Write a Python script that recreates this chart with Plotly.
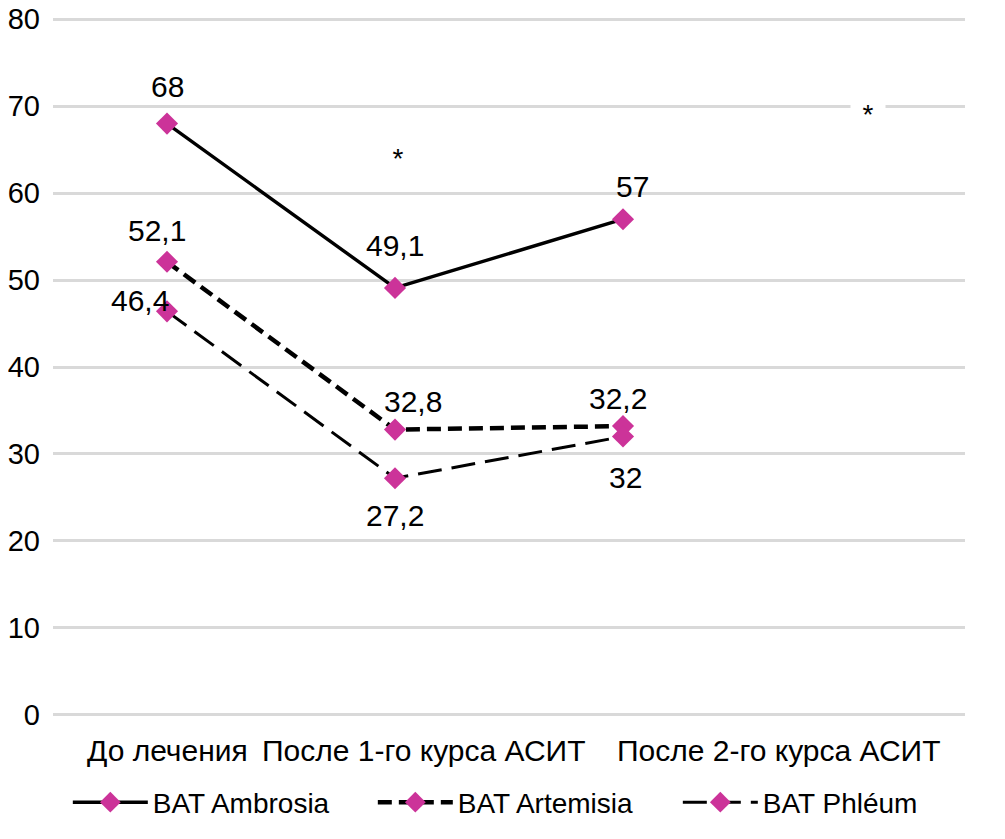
import plotly.graph_objects as go

categories = ["До лечения", "После 1-го курса АСИТ", "После 2-го курса АСИТ"]
series_names = ["BAT Ambrosia", "BAT Artemisia", "BAT Phléum"]
ambrosia = [68, 49.1, 57]
artemisia = [52.1, 32.8, 33.2]
phleum = [46.4, 27.2, 32]
ambrosia_labels = ["68", "49,1", "57"]
artemisia_labels = ["52,1", "32,8", "32,2"]
phleum_labels = ["46,4", "27,2", "32"]
star_pos = [1, 3]          # category slots (slot 3 is the empty fourth slot)
star_vals = [64, 69.1]
y_ticks = [0, 10, 20, 30, 40, 50, 60, 70, 80]

FONT = "Liberation Sans"
FS = 30
MARKER = "#CC3399"

series = [
    (series_names[0], ambrosia, ambrosia_labels, "solid", 3.4, [(0, -37), (0, -42), (9, -33)]),
    (series_names[1], artemisia, artemisia_labels, "14px,7px", 4.5, [(-10, -31), (18, -28), (-5, -28)]),
    (series_names[2], phleum, phleum_labels, "24px,10px", 3.0, [(-27, -11), (0, 37), (2, 41)]),
]

fig = go.Figure()
annotations = []
for name, vals, labels, dash, lw, offs in series:
    xs = categories[:len(vals)]
    fig.add_trace(go.Scatter(
        x=xs, y=vals, name=name, mode="lines+markers",
        line=dict(color="black", width=lw, dash=dash),
        marker=dict(symbol="diamond", size=17, color=MARKER),
    ))
    for xv, yv, lab, (dx, dy) in zip(xs, vals, labels, offs):
        annotations.append(dict(x=xv, y=yv, text=lab, showarrow=False,
                                xshift=dx, yshift=-dy,
                                font=dict(family=FONT, size=FS, color="black")))

star_shifts = [3, 17]
for xv, yv, dx in zip(star_pos, star_vals, star_shifts):
    annotations.append(dict(x=xv, y=yv, text="*", showarrow=False, xshift=dx,
                            bgcolor="white", width=34, borderpad=0,
                            font=dict(family=FONT, size=28, color="black")))

label_shifts = [0, 28, 155]
for cat, sh in zip(categories, label_shifts):
    annotations.append(dict(x=cat, y=0, yref="paper", text=cat, showarrow=False,
                            xshift=sh, yshift=-34, yanchor="middle",
                            font=dict(family=FONT, size=FS, color="black")))

# the page body has an 8px margin, so the figure is 8px smaller and margins compensated
fig.update_layout(
    width=997, height=831,
    margin=dict(l=45, r=40, t=10, b=123, autoexpand=False),
    plot_bgcolor="white", paper_bgcolor="white",
    font=dict(family=FONT, size=FS, color="black"),
    xaxis=dict(type="category", categoryorder="array", categoryarray=categories,
               range=[-0.5, 3.5], showticklabels=False, showgrid=False,
               zeroline=False, showline=False, ticks="", automargin=False),
    yaxis=dict(range=[-0.15, 80.15], tickvals=y_ticks, showgrid=True, gridcolor="#D9D9D9",
               gridwidth=2.5, zeroline=False, showline=False, ticks="",
               ticklabelstandoff=12, automargin=False, ticklabeloverflow="allow",
               tickfont=dict(family=FONT, size=29)),
    legend=dict(orientation="h", xref="container", yref="container",
                x=0.06, xanchor="left", y=0.074, yanchor="top",
                font=dict(family=FONT, size=28), itemwidth=75,
                entrywidth=215, entrywidthmode="pixels"),
    annotations=annotations,
    showlegend=True,
)
fig.write_html("out.html")
